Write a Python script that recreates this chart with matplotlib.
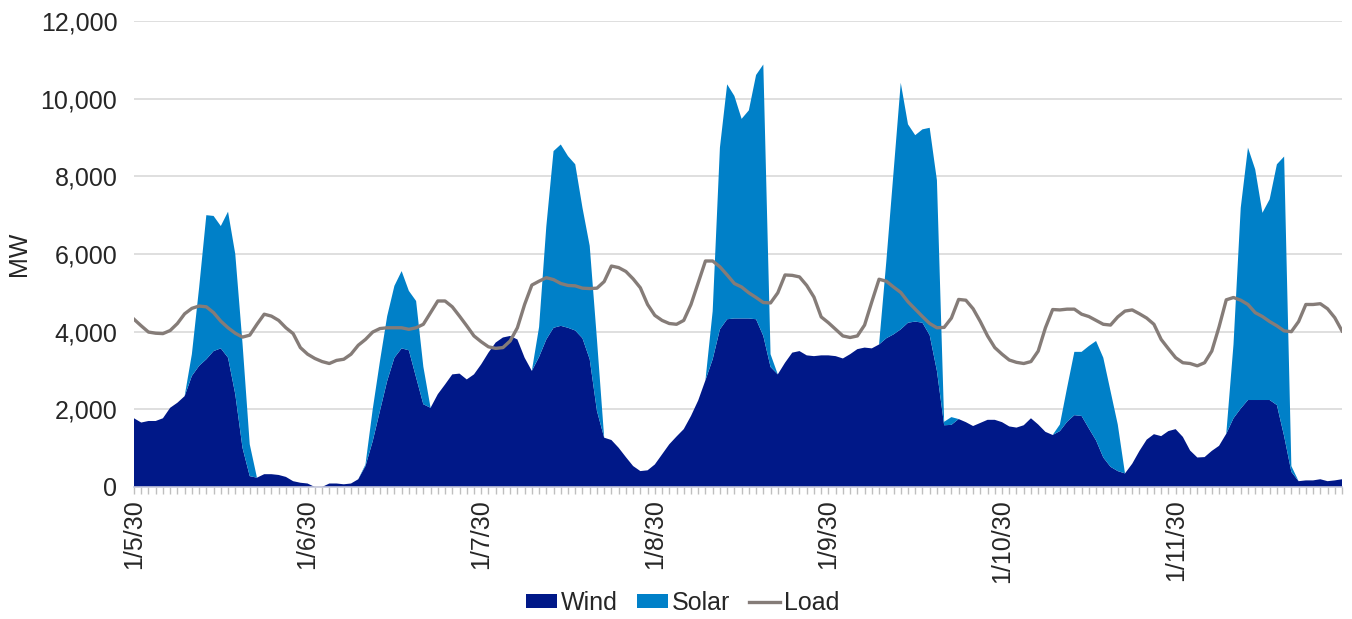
import numpy as np
import matplotlib
matplotlib.use("Agg")
from matplotlib import pyplot as plt
from matplotlib.ticker import FuncFormatter, MultipleLocator

plt.rc('font', family=['Liberation Sans', 'DejaVu Sans'])

# hourly values, 1/5/30 00:00 onwards (MW)
day_labels = ["1/5/30", "1/6/30", "1/7/30", "1/8/30", "1/9/30", "1/10/30", "1/11/30"]

wind = [1770, 1660, 1700, 1700, 1770, 2040, 2170, 2340, 2860, 3120, 3290, 3500,
        3570, 3330, 2390, 1010, 280, 240, 330, 330, 310, 260, 150, 110,
        90, 0, 0, 90, 90, 70, 90, 200, 540, 1180, 1960, 2730,
        3330, 3570, 3520, 2820, 2130, 2040, 2390, 2640, 2900, 2920, 2770, 2900,
        3160, 3460, 3720, 3850, 3890, 3800, 3330, 2990, 3350, 3800, 4100, 4150,
        4100, 4030, 3830, 3290, 1960, 1270, 1210, 1010, 770, 540, 410, 430,
        580, 840, 1100, 1300, 1490, 1830, 2230, 2750, 3290, 4060, 4320, 4340,
        4340, 4340, 4320, 3890, 3090, 2900, 3200, 3460, 3500, 3390, 3370, 3390,
        3390, 3370, 3310, 3420, 3550, 3590, 3570, 3670, 3830, 3930, 4060, 4230,
        4260, 4230, 3910, 2990, 1590, 1600, 1750, 1670, 1570, 1650, 1730, 1730,
        1670, 1560, 1530, 1590, 1770, 1610, 1420, 1340, 1440, 1680, 1850, 1830,
        1510, 1200, 760, 520, 410, 350, 600, 930, 1220, 1360, 1310, 1440,
        1490, 1290, 940, 760, 770, 930, 1060, 1370, 1770, 2020, 2240, 2240,
        2240, 2240, 2110, 1310, 390, 150, 170, 170, 200, 150, 170, 200]

solar = [0, 0, 0, 0, 0, 0, 0, 0, 560, 2010, 3710, 3480,
         3150, 3760, 3610, 2690, 820, 0, 0, 0, 0, 0, 0, 0,
         0, 0, 0, 0, 0, 0, 0, 0, 40, 820, 1280, 1670,
         1850, 1990, 1530, 1970, 970, 0, 0, 0, 0, 0, 0, 0,
         0, 0, 0, 0, 0, 0, 0, 0, 770, 2910, 4550, 4670,
         4420, 4280, 3360, 2920, 1840, 0, 0, 0, 0, 0, 0, 0,
         0, 0, 0, 0, 0, 0, 0, 0, 1240, 4680, 6050, 5730,
         5140, 5360, 6290, 6990, 330, 0, 0, 0, 0, 0, 0, 0,
         0, 0, 0, 0, 0, 0, 0, 0, 1970, 4170, 6350, 5110,
         4800, 4980, 5340, 4910, 90, 200, 0, 0, 0, 0, 0, 0,
         0, 0, 0, 0, 0, 0, 0, 0, 170, 880, 1630, 1650,
         2120, 2560, 2570, 1950, 1200, 0, 0, 0, 0, 0, 0, 0,
         0, 0, 0, 0, 0, 0, 0, 0, 1900, 5170, 6500, 5940,
         4820, 5170, 6200, 7200, 150, 0, 0, 0, 0, 0, 0, 0]

load = [4320, 4150, 3990, 3960, 3950, 4030, 4210, 4460, 4600, 4660, 4640, 4490,
        4270, 4100, 3960, 3860, 3910, 4190, 4450, 4400, 4290, 4100, 3950, 3590,
        3420, 3310, 3230, 3180, 3260, 3290, 3420, 3650, 3800, 3990, 4080, 4100,
        4100, 4100, 4060, 4100, 4190, 4490, 4790, 4790, 4640, 4400, 4150, 3890,
        3740, 3610, 3570, 3590, 3760, 4100, 4700, 5200, 5300, 5390, 5340, 5240,
        5190, 5180, 5120, 5110, 5120, 5290, 5690, 5650, 5550, 5360, 5130, 4700,
        4420, 4290, 4210, 4190, 4290, 4700, 5260, 5820, 5820, 5670, 5460, 5240,
        5150, 5000, 4880, 4750, 4740, 5000, 5460, 5450, 5410, 5190, 4890, 4380,
        4230, 4060, 3890, 3850, 3890, 4170, 4770, 5350, 5300, 5150, 5010, 4770,
        4580, 4390, 4210, 4100, 4110, 4350, 4830, 4810, 4590, 4260, 3890, 3590,
        3420, 3270, 3210, 3180, 3230, 3500, 4100, 4570, 4560, 4580, 4580, 4450,
        4390, 4290, 4190, 4170, 4380, 4530, 4560, 4460, 4350, 4190, 3800, 3560,
        3330, 3200, 3180, 3120, 3200, 3500, 4120, 4820, 4880, 4810, 4700, 4490,
        4390, 4260, 4150, 4020, 4000, 4260, 4700, 4700, 4720, 4590, 4360, 4020]

hours = np.arange(len(wind))

fig = plt.figure(figsize=(13.52, 6.19), dpi=100)
ax = fig.add_axes([134/1352, 1-487/619, (1342-134)/1352, (487-21)/619])

ax.stackplot(hours, wind, solar, colors=["#001888", "#0080C8"],
             labels=["Wind", "Solar"], linewidth=0, zorder=2)
ax.plot(hours, load, color="#857C78", linewidth=2.4, label="Load", zorder=3)

ax.set_xlim(0, 167)
ax.set_ylim(0, 12000)
ax.yaxis.set_major_locator(MultipleLocator(2000))
ax.yaxis.set_major_formatter(FuncFormatter(lambda v, p: f"{int(v):,}"))
ax.grid(axis='y', color='#D9D9D9', linewidth=1.2, zorder=0)
ax.set_axisbelow(True)

ax.set_xticks(np.arange(0, 168, 24))
ax.set_xticklabels(day_labels, rotation=90)
ax.xaxis.set_minor_locator(MultipleLocator(1))
ax.tick_params(axis='x', which='both', direction='out', length=5, width=1,
               color='#BFBFBF', labelsize=18, labelcolor='#262626', pad=4)
ax.tick_params(axis='y', length=0, labelsize=18, labelcolor='#262626', pad=12)

for s in ['top', 'right', 'left']:
    ax.spines[s].set_visible(False)
ax.spines['bottom'].set_color('#C5C8DC')
ax.spines['bottom'].set_linewidth(1.2)

fig.text(19/1352, 1-254/619, "MW", rotation=90, ha='center', va='center',
         fontsize=18, color='#262626')

handles, labels = ax.get_legend_handles_labels()
fig.legend(handles, labels, loc='center', bbox_to_anchor=(0.505, 0.026), ncol=3,
           frameon=False, fontsize=18, handlelength=1.25, handleheight=0.5,
           handletextpad=0.15, columnspacing=0.75, labelcolor='#262626')

fig.savefig("out.png", dpi=100)
